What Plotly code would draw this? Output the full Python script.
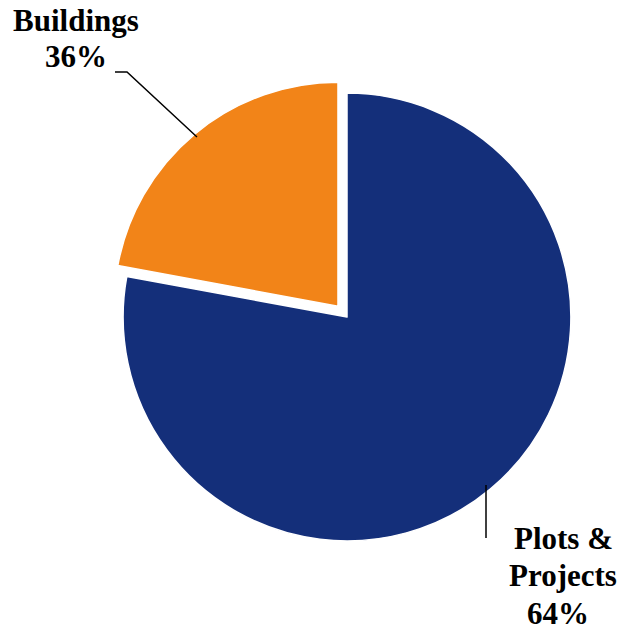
import plotly.graph_objects as go

categories = ["Plots & Projects", "Buildings"]
slice_values = [77.9, 22.1]
label_lines = {
    "Buildings": ["Buildings", "36%"],
    "Plots & Projects": ["Plots &amp;", "Projects", "64%"],
}
colors = ["#142F7A", "#F28418"]

W, H = 621, 633
L, R, T, B = 109, 36, 79, 78
PW, PH = W - L - R, H - T - B


def px(x):
    return (x - L) / PW


def py(y):
    return 1 - (y - T) / PH


fig = go.Figure()
fig.add_trace(go.Pie(
    labels=categories,
    values=slice_values,
    sort=False,
    direction="clockwise",
    rotation=0,
    pull=[0, 0.063],
    marker=dict(colors=colors, line=dict(color="white", width=1.5)),
    textinfo="none",
    hoverinfo="label+percent",
    showlegend=False,
))

FS = 31
font = dict(family="'Times New Roman', 'Liberation Serif', 'DejaVu Serif', serif", size=FS, color="black")

# label line placements (x centre, baseline) in pixels
placements = {
    "Buildings": [(76, 32), (76, 68)],
    "Plots & Projects": [(563, 550), (563, 587), (558, 625)],
}
for cat in categories:
    for txt, (cx, base) in zip(label_lines[cat], placements[cat]):
        fig.add_annotation(x=px(cx), y=py(base - 0.36 * FS), xref="paper", yref="paper",
                           text="<b>" + txt + "</b>", showarrow=False,
                           xanchor="center", yanchor="middle", font=font)

line_style = dict(color="black", width=1.5)
fig.add_shape(type="path", xref="paper", yref="paper",
              path=f"M {px(115)},{py(72)} L {px(127)},{py(72)} L {px(197)},{py(137)}",
              line=line_style)
fig.add_shape(type="line", xref="paper", yref="paper",
              x0=px(486), y0=py(485), x1=px(486), y1=py(538), line=line_style)

fig.update_layout(
    width=W, height=H,
    margin=dict(l=L, r=R, t=T, b=B),
    paper_bgcolor="white", plot_bgcolor="white",
)

fig.write_html("out.html")
